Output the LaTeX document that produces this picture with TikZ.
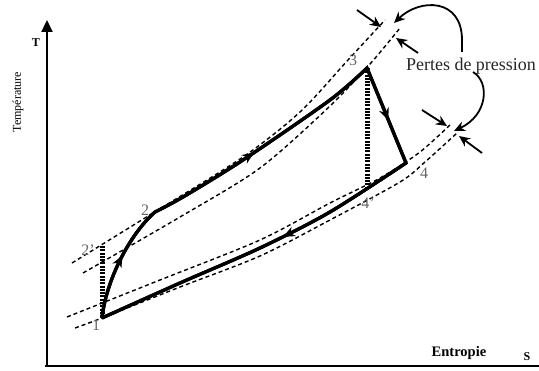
\documentclass[tikz,border=0pt]{standalone}
\usepackage{fontspec}
\setmainfont{Liberation Serif}
\usetikzlibrary{arrows.meta,decorations.markings}
\begin{document}
\begin{tikzpicture}[x=1pt,y=-1pt,
  iso/.style={line width=1.4pt, dash pattern=on 4pt off 3pt},
  cyc/.style={line width=3.3pt},
  vdot/.style={line width=5pt, dash pattern=on 2pt off 1.3pt},
  ptlab/.style={text=black!60, font=\fontsize{16}{16}\selectfont, inner sep=0pt},
  midarrow/.style={postaction={decorate}, decoration={markings, mark=at position #1 with {\arrow{Stealth[length=12pt,width=10pt]}}}},
  loss/.style={line width=1.8pt, -{Stealth[length=11pt,width=10pt]}}
]
\useasboundingbox (0,0) rectangle (539,371);
% axes
\coordinate (O) at (47,366);
\coordinate (Ytop) at (47,20);
\coordinate (Xbeg) at (45,366);
\coordinate (Xend) at (539,366);
\draw[line width=2.2pt, -{Triangle[length=12pt,width=11pt]}] (O) -- (Ytop);
\draw[line width=2.4pt] (Xbeg) -- (Xend);
\node[font=\bfseries\fontsize{12}{12}\selectfont, inner sep=0pt] (T) at (36,43) {T};
\node[rotate=90, font=\fontsize{12}{12}\selectfont, inner sep=0pt] (temp) at (18,102) {Température};
\node[font=\bfseries\fontsize{14.5}{14.5}\selectfont, inner sep=0pt] (ent) at (459,353) {Entropie};
\node[font=\bfseries\fontsize{12}{12}\selectfont, inner sep=0pt] (S) at (527,357) {S};
% points
\coordinate (p1) at (102,318);
\coordinate (p2) at (155,212);
\coordinate (p3) at (367,68);
\coordinate (p4) at (406,163);
\coordinate (p2p) at (102,246);
\coordinate (p4p) at (367,189);
% isobars
\draw[iso] plot[smooth] coordinates {(72,263) (153,213) (243,157) (300,112) (348,60) (385,20)};
\draw[iso] plot[smooth] coordinates {(83,273) (180,217) (260,168) (330,106) (370,64) (400,28)};
\draw[iso] plot[smooth] coordinates {(67,317) (160,280) (260,240) (330,203) (380,178) (420,152) (452,123)};
\draw[iso] plot[smooth] coordinates {(75,328) (102,318) (180,287) (260,256) (330,220) (400,182) (425,162) (457,133)};
% dotted verticals
\draw[vdot] (p2p) -- (p1);
\draw[vdot] (p3) -- (p4p);
% cycle
\draw[cyc, line join=miter] (p1) .. controls (106,282) and (128,236) .. (p2)
  -- plot[smooth] coordinates {(p2) (183,197) (243,160) (330,100) (p3)}
  -- (p4)
  -- plot[smooth] coordinates {(p4) (330,212) (260,248) (180,283) (p1)};
\draw[cyc, midarrow=0.55] (p1) .. controls (106,282) and (128,236) .. (p2);
\draw[cyc, midarrow=0.45] plot[smooth] coordinates {(p2) (183,197) (243,160) (330,100) (p3)};
\draw[cyc, midarrow=0.55] (p3) -- (p4);
\draw[cyc, midarrow=0.42] plot[smooth] coordinates {(p4) (330,212) (260,248) (180,283) (p1)};
% labels
\node[ptlab] (l1) at (96,325) {1};
\node[ptlab] (l2) at (145,210) {2};
\node[ptlab] (l2p) at (88,250) {2'};
\node[ptlab] (l3) at (353,60) {3};
\node[ptlab] (l4) at (424,173) {4};
\node[ptlab] (l4p) at (368,203) {4'};
% pressure losses
\node[font=\fontsize{18}{18}\selectfont, text=black!85, inner sep=0pt] (pp) at (471,66) {Pertes de pression};
\coordinate (a1s) at (357,10); \coordinate (a1e) at (381,27);
\coordinate (a2s) at (418,53); \coordinate (a2e) at (396,38);
\coordinate (a3s) at (422,110); \coordinate (a3e) at (447,126);
\coordinate (a4s) at (482,153); \coordinate (a4e) at (459,136);
\draw[loss] (a1s) -- (a1e);
\draw[loss] (a2s) -- (a2e);
\draw[loss] (a3s) -- (a3e);
\draw[loss] (a4s) -- (a4e);
\coordinate (c1s) at (462,52); \coordinate (c1e) at (394,23);
\coordinate (c2s) at (473,72); \coordinate (c2e) at (454,131);
\draw[loss] (c1s) -- (462,40) .. controls (462,-2) and (420,-2) .. (c1e);
\draw[loss] (c2s) .. controls (490,82) and (488,115) .. (c2e);
\end{tikzpicture}
\end{document}
